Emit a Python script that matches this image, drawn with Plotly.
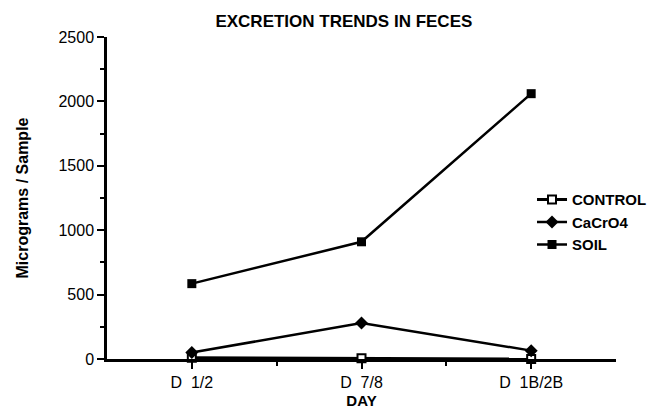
import plotly.graph_objects as go

days = ["D  1/2", "D  7/8", "D  1B/2B"]
control = [10, 5, 0]
cacro4 = [50, 280, 65]
soil = [585, 910, 2060]

xpos = list(range(len(days)))
FONT = "Liberation Sans, Arial, sans-serif"

fig = go.Figure()
fig.add_trace(go.Scatter(x=xpos, y=control, name="<b>CONTROL</b>", mode="lines+markers",
                         line=dict(color="black", width=3),
                         marker=dict(symbol="square", size=8, color="white",
                                     line=dict(color="black", width=2)),
                         cliponaxis=False))
fig.add_trace(go.Scatter(x=xpos, y=cacro4, name="<b>CaCrO4</b>", mode="lines+markers",
                         line=dict(color="black", width=2.5),
                         marker=dict(symbol="diamond", size=10, color="black"),
                         cliponaxis=False))
fig.add_trace(go.Scatter(x=xpos, y=soil, name="<b>SOIL</b>", mode="lines+markers",
                         line=dict(color="black", width=2.5),
                         marker=dict(symbol="square", size=9, color="black"),
                         cliponaxis=False))

fig.update_layout(
    width=656, height=411,
    margin=dict(l=99, r=43, t=29, b=54),
    paper_bgcolor="white", plot_bgcolor="white",
    font=dict(family=FONT, color="black", size=16),
    title=dict(text="<b>EXCRETION TRENDS IN FECES</b>", x=0.512, xanchor="center",
               y=0.968, yanchor="middle", font=dict(size=17)),
    legend=dict(x=0.835, y=0.425, xanchor="left", yanchor="middle",
                font=dict(size=15), itemwidth=30, tracegroupgap=0,
                bgcolor="rgba(0,0,0,0)"),
    xaxis=dict(range=[-0.5, 2.5], tickvals=xpos, ticktext=days,
               showgrid=False, zeroline=False, showline=True, linecolor="black",
               linewidth=2.5, ticks="outside", ticklen=7, tickwidth=2, tickcolor="black",
               minor=dict(tickvals=[0.5, 1.5], ticks="outside", ticklen=4,
                          tickwidth=1.5, tickcolor="black"),
               title=dict(text="<b>DAY</b>", standoff=6, font=dict(size=15)),
               tickfont=dict(size=16)),
    yaxis=dict(range=[0, 2500], tickvals=[0, 500, 1000, 1500, 2000, 2500],
               showgrid=False, zeroline=False, showline=True, linecolor="black",
               linewidth=2.5, ticks="outside", ticklen=7, tickwidth=2, tickcolor="black",
               minor=dict(tickvals=[250, 750, 1250, 1750, 2250], ticks="outside",
                          ticklen=4, tickwidth=1.5, tickcolor="black"),
               title=dict(text="<b>Micrograms / Sample</b>", standoff=26,
                          font=dict(size=16)),
               tickfont=dict(size=16)),
)

fig.write_html("out.html")
